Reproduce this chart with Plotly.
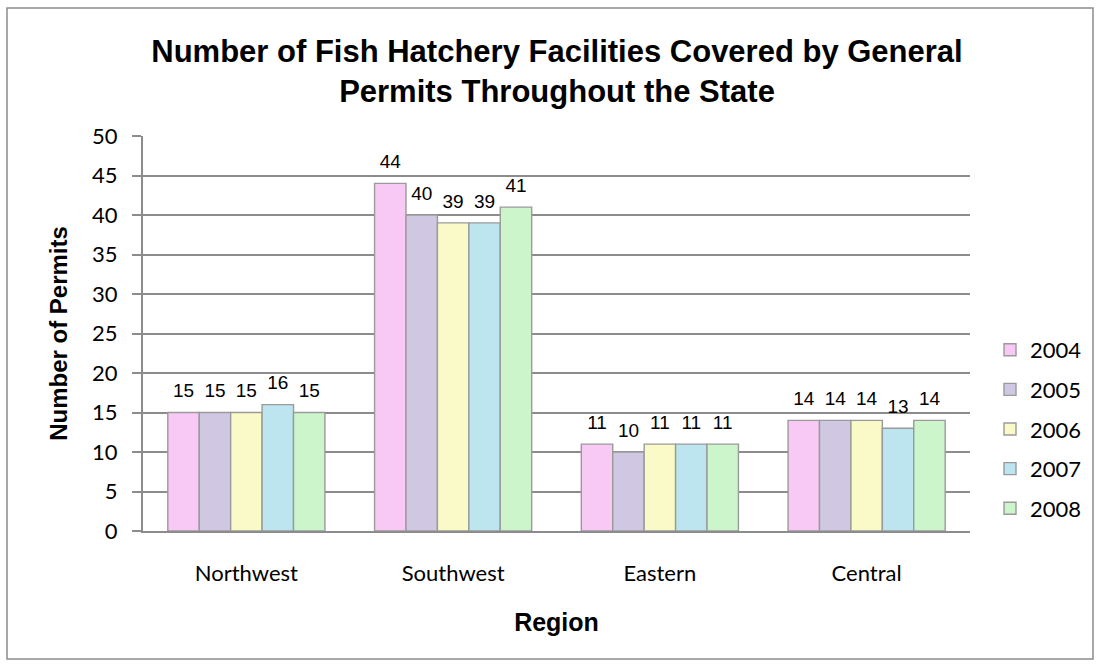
import plotly.graph_objects as go

regions = ["Northwest", "Southwest", "Eastern", "Central"]
years = ["2004", "2005", "2006", "2007", "2008"]
permits_2004 = [15, 44, 11, 14]
permits_2005 = [15, 40, 10, 14]
permits_2006 = [15, 39, 11, 14]
permits_2007 = [16, 39, 11, 13]
permits_2008 = [15, 41, 11, 14]
series = [permits_2004, permits_2005, permits_2006, permits_2007, permits_2008]

colors = ["#F9C9F6", "#D0C8E2", "#FAFAC8", "#BDE5EF", "#CCF5CC"]

W, H = 1101, 667
L, R, T, B = 143, 131, 136, 136
pw, ph = W - L - R, H - T - B

ARIAL = "Liberation Sans, Arial, sans-serif"
BODY = "Lato, Calibri, sans-serif"

fig = go.Figure()
for i, (yr, vals) in enumerate(zip(years, series)):
    fig.add_trace(go.Bar(
        x=regions, y=vals, name=yr, legendgroup=yr,
        marker=dict(color=colors[i], line=dict(color="#9A9A9A", width=1.4)),
    ))

# value labels, grouped to sit over their bars
for i, (yr, vals) in enumerate(zip(years, series)):
    fig.add_trace(go.Scatter(
        x=regions, y=vals, mode="markers+text", showlegend=False, hoverinfo="skip",
        legendgroup=yr,
        marker=dict(size=15, opacity=0),
        text=[str(v) for v in vals], textposition="top center",
        textfont=dict(family=ARIAL, size=19, color="#000"),
        cliponaxis=False,
    ))

# chart-area frame
fig.add_shape(type="rect", xref="paper", yref="paper",
              x0=(7 - L) / pw, x1=(1093 - L) / pw,
              y0=-(659 - T - ph) / ph, y1=1 + (T - 8) / ph,
              line=dict(color="#8C8C8C", width=1.5), fillcolor="rgba(0,0,0,0)", layer="below")

fig.update_layout(
    width=W, height=H,
    margin=dict(l=L, r=R, t=T, b=B),
    paper_bgcolor="white", plot_bgcolor="white",
    barmode="group", bargap=0.24, bargroupgap=0.0,
    scattermode="group", scattergap=0.24,
    title=dict(text="<b>Number of Fish Hatchery Facilities Covered by General<br>Permits Throughout the State</b>",
               xref="container", x=557 / W, xanchor="center",
               yref="container", y=1 - 62 / H, yanchor="top",
               font=dict(family=ARIAL, size=31, color="#000")),
    font=dict(family=BODY, color="#000"),
    legend=dict(x=(990 - L) / pw, xanchor="left", y=(531 - 429) / ph, yanchor="middle",
                font=dict(family=BODY, size=22),
                tracegroupgap=8, itemwidth=30),
    showlegend=True,
)
fig.update_xaxes(
    showline=True, linecolor="#8C8C8C", linewidth=2,
    ticks="", ticklabelstandoff=22, tickfont=dict(size=22, family=BODY),
    title=dict(text="<b>Region</b>", font=dict(family=ARIAL, size=25), standoff=28),
)
fig.update_yaxes(
    range=[0, 50], dtick=5, showgrid=True, gridcolor="#8C8C8C", gridwidth=2,
    showline=True, linecolor="#8C8C8C", linewidth=2,
    ticks="outside", ticklen=9, tickcolor="#8C8C8C", tickwidth=2,
    ticklabelstandoff=10,
    tickfont=dict(size=22, family=BODY),
    title=dict(text="<b>Number of Permits</b>", font=dict(family=ARIAL, size=24), standoff=18),
    zeroline=False,
)

fig.write_html("out.html")
